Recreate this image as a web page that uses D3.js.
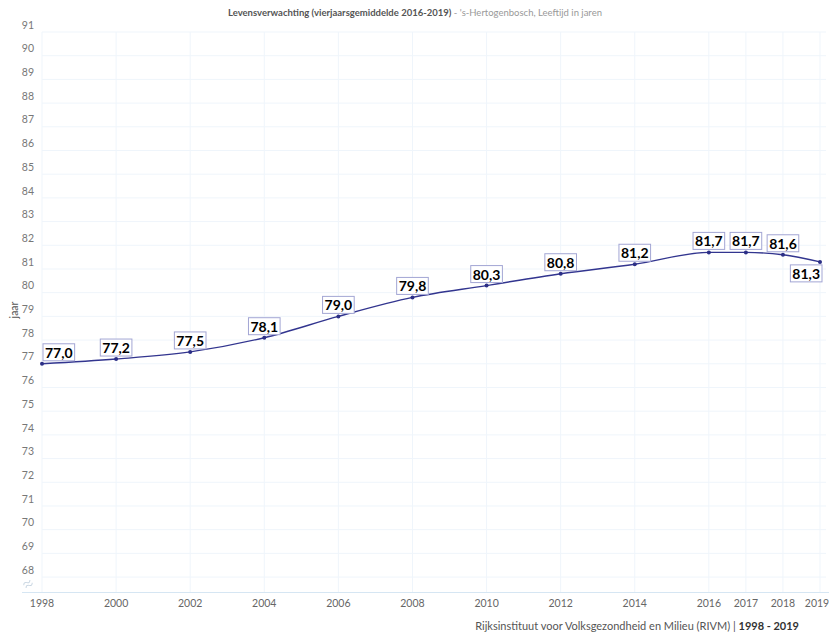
<!DOCTYPE html>
<html>
<head>
<meta charset="utf-8">
<script src="https://cdn.jsdelivr.net/npm/d3@7"></script>
<style>
  body { margin: 0; background: #fff; }
  svg { display: block; font-family: Lato, "Open Sans", sans-serif; }
</style>
</head>
<body>
<svg id="chart" width="829" height="634"></svg>
<script>
// data
var years = [1998, 2000, 2002, 2004, 2006, 2008, 2010, 2012, 2014, 2016, 2017, 2018, 2019];
var values = [77.0, 77.2, 77.5, 78.1, 79.0, 79.8, 80.3, 80.8, 81.2, 81.7, 81.7, 81.6, 81.3];
var y_ticks = d3.range(68, 92);

var title_bold = 'Levensverwachting (vierjaarsgemiddelde 2016-2019)';
var title_rest = " - 's-Hertogenbosch, Leeftijd in jaren";
var source_text = 'Rijksinstituut voor Volksgezondheid en Milieu (RIVM) | ';
var source_bold = '1998 - 2019';

var plot_left = 42, plot_right = 820, plot_top = 32, plot_bottom = 592;

var svg = d3.select('#chart');

var x = d3.scaleLinear()
  .domain([1998, 2019])
  .range([plot_left, plot_right]);

var y = d3.scaleLinear()
  .domain([67.37, 91])
  .range([plot_bottom, plot_top]);

var data = years.map(function(d, i){ return {year: d, value: values[i]}; });

// gridlines
svg.append('g')
  .selectAll('line')
  .data(y_ticks)
  .enter()
  .append('line')
  .attr('x1', plot_left)
  .attr('x2', 826)
  .attr('y1', function(d){ return y(d); })
  .attr('y2', function(d){ return y(d); })
  .style('stroke', '#eff5fb')
  .style('stroke-width', 1);

svg.append('g')
  .selectAll('line')
  .data(years)
  .enter()
  .append('line')
  .attr('x1', function(d){ return x(d); })
  .attr('x2', function(d){ return x(d); })
  .attr('y1', plot_top)
  .attr('y2', plot_bottom)
  .style('stroke', '#eff5fb')
  .style('stroke-width', 1);

// x axis line
svg.append('line')
  .attr('x1', 22)
  .attr('x2', 829)
  .attr('y1', plot_bottom + 0.5)
  .attr('y2', plot_bottom + 0.5)
  .style('stroke', '#d6e6f3')
  .style('stroke-width', 1);

// y tick labels (sit a bit above their gridline)
svg.append('g')
  .selectAll('text')
  .data(y_ticks)
  .enter()
  .append('text')
  .attr('x', 34)
  .attr('y', function(d){ return y(d) - 7; })
  .attr('dy', '0.35em')
  .attr('text-anchor', 'end')
  .style('font-size', '10.5px')
  .style('fill', '#777')
  .text(function(d){ return d; });

// x tick labels
svg.append('g')
  .selectAll('text')
  .data(years)
  .enter()
  .append('text')
  .attr('x', function(d){ return Math.min(x(d), 817); })
  .attr('y', 603)
  .attr('dy', '0.35em')
  .attr('text-anchor', 'middle')
  .style('font-size', '10.5px')
  .style('fill', '#666')
  .text(function(d){ return d; });

// axis break mark
var brk = svg.append('g')
  .attr('transform', 'translate(28,584) rotate(-40)')
  .style('fill', 'none')
  .style('stroke', '#c9d6e2')
  .style('stroke-width', 1);
[-1.8, 1.8].forEach(function(off){
  brk.append('path')
    .attr('d', 'M-4,' + off + ' q2,-2.5 4,0 t4,0');
});

// y axis title
svg.append('text')
  .attr('transform', 'translate(14,310) rotate(-90)')
  .attr('text-anchor', 'middle')
  .attr('dy', '0.35em')
  .style('font-size', '10.5px')
  .style('fill', '#555')
  .text('jaar');

// line
var line = d3.line()
  .x(function(d){ return x(d.year); })
  .y(function(d){ return y(d.value); })
  .curve(d3.curveMonotoneX);

svg.append('path')
  .datum(data)
  .attr('d', line)
  .style('fill', 'none')
  .style('stroke', '#32358f')
  .style('stroke-width', 1.4);

svg.append('g')
  .selectAll('circle')
  .data(data)
  .enter()
  .append('circle')
  .attr('cx', function(d){ return x(d.year); })
  .attr('cy', function(d){ return y(d.value); })
  .attr('r', 2)
  .style('fill', '#2b2e86');

// data labels
var fmt = function(v){ return v.toFixed(1).replace('.', ','); };

var labels = svg.append('g')
  .selectAll('g')
  .data(data)
  .enter()
  .append('g');

labels.each(function(d, i){
  var g = d3.select(this);
  var txt = g.append('text')
    .attr('text-anchor', 'middle')
    .attr('dy', '0.36em')
    .style('font-size', '14px')
    .style('font-weight', 'bold')
    .style('fill', '#000')
    .text(fmt(d.value));
  var w = txt.node().getComputedTextLength() + 4;
  var h = 17;
  var cx = x(d.year);
  var cy = y(d.value);
  // keep inside plot area
  if (cx - w / 2 < plot_left) cx = plot_left + w / 2 + 1;
  if (cx + w / 2 > plot_right + 2) cx = plot_right + 2 - w / 2;
  var top;
  if (i === data.length - 1) {
    top = cy + 3;
  } else {
    top = cy - 3 - h;
  }
  g.insert('rect', 'text')
    .attr('x', cx - w / 2)
    .attr('y', top)
    .attr('width', w)
    .attr('height', h)
    .style('fill', '#fff')
    .style('stroke', '#a3a6d4')
    .style('stroke-width', 1);
  txt.attr('x', cx).attr('y', top + h / 2 + 0.5);
});

// title
var title = svg.append('text')
  .attr('x', 415)
  .attr('y', 13)
  .attr('dy', '0.35em')
  .attr('text-anchor', 'middle')
  .style('font-size', '9.5px');
title.append('tspan')
  .style('font-weight', 'bold')
  .style('fill', '#555')
  .text(title_bold);
title.append('tspan')
  .style('fill', '#999')
  .text(title_rest);

// source
var src = svg.append('text')
  .attr('x', 799)
  .attr('y', 626)
  .attr('dy', '0.35em')
  .attr('text-anchor', 'end')
  .style('font-size', '11px')
  .style('fill', '#555');
src.append('tspan').text(source_text);
src.append('tspan').style('font-weight', 'bold').style('fill', '#333').text(source_bold);
</script>
</body>
</html>
